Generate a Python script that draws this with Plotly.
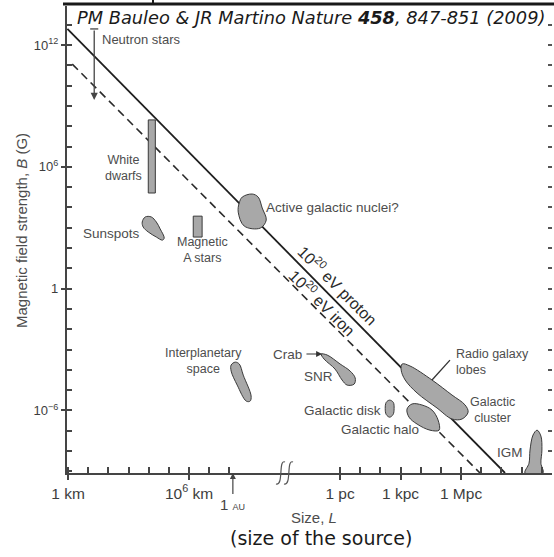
import plotly.graph_objects as go

# ---------------- data (log10 of size in km, log10 of field in gauss) ----------------
y_major = [12, 6, 0, -6]
y_major_text = ['10<sup>12</sup>', '10<sup>6</sup>', '1', '10<sup>−6</sup>']
y_minor = [-9, -8, -7, -6, -5, -4, -3, -2, -1, 0, 1, 2, 3, 4, 5, 6, 7, 8, 9, 10, 11, 12, 13]
y_right = [-8, -7, -6, -5, -4, -3, -2, -1, 0, 1, 2, 3, 4, 5, 6, 7, 8, 9, 10, 11, 12, 13]

x_major = [0, 6, 13.49, 16.49, 19.49]
x_major_text = ['1 km', '10<sup>6</sup> km', '1 pc', '1 kpc', '1 Mpc']
x_minor = [0, 1, 2, 3, 4, 5, 6, 7, 8,
           13.49, 14.49, 15.49, 16.49, 17.49, 18.49, 19.49, 20.49, 21.49, 22.49, 23.49]
AU_logkm = 8.175

proton_L = [-0.03, 21.67]
proton_B = [12.79, -9.08]
iron_L = [0.21, 20.43]
iron_B = [11.06, -9.08]

neutron_L = 1.30
neutron_B = [12.79, 9.29]

white_dwarf_L = [3.98, 4.33, 4.33, 3.98]
white_dwarf_B = [8.31, 8.31, 4.71, 4.71]

sunspots_L = [3.68, 3.83, 4.13, 4.38, 4.57, 4.77, 4.68, 4.38, 3.98, 3.73]
sunspots_B = [3.28, 3.53, 3.53, 3.28, 2.94, 2.49, 2.39, 2.54, 2.79, 3.03]

astars_L = [6.21, 6.65, 6.65, 6.21]
astars_B = [3.57, 3.57, 2.54, 2.54]

agn_L = [8.44, 8.49, 8.64, 9.13, 9.43, 9.63, 9.83, 9.53, 8.74]
agn_B = [3.77, 4.22, 4.51, 4.66, 4.51, 3.97, 3.38, 2.98, 3.08]

interplan_L = [8.29, 8.49, 8.69, 9.08, 9.03, 8.84, 8.39, 8.09, 8.09]
interplan_B = [-3.62, -3.71, -4.26, -5.29, -5.54, -5.54, -4.75, -4.06, -3.76]

snr_L = [12.55, 12.85, 13.49, 13.99, 14.24, 14.19, 13.84, 13.59, 13.24, 12.70]
snr_B = [-3.22, -3.27, -3.71, -4.06, -4.40, -4.70, -4.75, -4.50, -3.96, -3.47]

gdisk_L = [15.95, 16.13, 16.17, 16.12, 15.95, 15.78, 15.73, 15.78]
gdisk_B = [-5.49, -5.60, -5.91, -6.20, -6.33, -6.20, -5.91, -5.60]

ghalo_L = [16.81, 17.06, 17.55, 18.05, 18.35, 18.40, 17.95, 17.31, 16.91]
ghalo_B = [-5.93, -5.68, -5.73, -5.98, -6.47, -6.97, -6.97, -6.67, -6.33]

lobes_L = [16.57, 16.96, 18.05, 19.04, 19.69, 19.84, 19.54, 19.04, 18.30, 17.31, 16.72, 16.52]
lobes_B = [-3.71, -3.81, -4.50, -5.24, -5.73, -6.08, -6.42, -6.42, -5.88, -5.14, -4.50, -4.01]

igm_L = [22.66, 22.86, 22.91, 23.06, 23.26, 23.45, 23.50, 23.45, 23.55]
igm_B = [-9.08, -8.60, -7.95, -7.21, -6.97, -7.26, -7.95, -8.60, -9.08]

lobes_leader_L = [18.05, 18.94]
lobes_leader_B = [-4.50, -3.52]

crab_arrow_L = [11.75, 12.60]
crab_arrow_B = -3.22

# ---------------- layout constants ----------------
W, H = 554, 557
ML, MR, MT, MB = 67, 2, 6, 84
PW, PH = W - ML - MR, H - MT - MB
x_range = [-0.05, 24.0]
y_range = [-9.08, 13.92]

FILL = '#a8a8a8'
EDGE = '#3a3a3a'
TXT = '#4d4d4d'
AX = '#454545'
SANS = 'Liberation Sans, Arial, sans-serif'


def paper_x(px):
    return (px - ML) / PW


def paper_y(py):
    return (H - MB - py) / PH


fig = go.Figure()


def blob(L, B, smooth=True):
    fig.add_trace(go.Scatter(
        x=L + [L[0]], y=B + [B[0]], mode='lines', fill='toself', fillcolor=FILL,
        line=dict(color=EDGE, width=1, shape='spline' if smooth else 'linear', smoothing=1),
        hoverinfo='skip', showlegend=False))


# limit lines
fig.add_trace(go.Scatter(x=proton_L, y=proton_B, mode='lines',
                         line=dict(color='#1e1e1e', width=1.8), showlegend=False, hoverinfo='skip'))
fig.add_trace(go.Scatter(x=iron_L, y=iron_B, mode='lines',
                         line=dict(color='#2a2a2a', width=1.6, dash='8px,5px'), showlegend=False, hoverinfo='skip'))

# sources
blob(white_dwarf_L, white_dwarf_B, smooth=False)
blob(sunspots_L, sunspots_B)
blob(astars_L, astars_B, smooth=False)
blob(agn_L, agn_B)
blob(interplan_L, interplan_B)
blob(snr_L, snr_B)
blob(gdisk_L, gdisk_B)
blob(ghalo_L, ghalo_B)
blob(lobes_L, lobes_B)
blob(igm_L, igm_B)

# neutron star bar cap, lobes leader line
fig.add_trace(go.Scatter(x=[neutron_L - 0.2, neutron_L + 0.2], y=[neutron_B[0], neutron_B[0]], mode='lines',
                         line=dict(color=AX, width=1.3), showlegend=False, hoverinfo='skip'))
fig.add_trace(go.Scatter(x=lobes_leader_L, y=lobes_leader_B, mode='lines',
                         line=dict(color='#333', width=1.3), showlegend=False, hoverinfo='skip'))

# invisible trace for right-hand tick axis
fig.add_trace(go.Scatter(x=[None], y=[None], yaxis='y2', showlegend=False, hoverinfo='skip'))

ann = []


def label(text, x, y, xanchor='center', size=13.5, color=TXT, angle=0, align='center'):
    ann.append(dict(text=text, x=x, y=y, xref='x', yref='y', xanchor=xanchor, yanchor='middle',
                    showarrow=False, textangle=angle, align=align,
                    font=dict(family=SANS, size=size, color=color)))


label('Neutron stars', 1.60, 12.25, xanchor='left', size=13)
label('White<br>dwarfs', 2.74, 5.92, size=12.5)
label('Sunspots', 2.15, 2.74)
label('Magnetic<br>A stars', 6.65, 1.90, size=12.5)
label('Active galactic nuclei?', 9.73, 4.02, xanchor='left')
label('10<sup>20</sup> eV proton', 13.39, 0.18, size=16, color='#2a2a2a', angle=45)
label('10<sup>20</sup> eV iron', 12.60, -0.66, size=16, color='#2a2a2a', angle=45)
label('Interplanetary<br>space', 6.70, -3.54, size=12.5)
label('Crab', 11.71, -3.22, xanchor='right')
label('SNR', 12.43, -4.35)
label('Galactic disk', 15.63, -5.98, xanchor='right')
label('Galactic halo', 15.45, -6.92)
label('Radio galaxy<br>lobes', 19.14, -3.59, xanchor='left', size=12.5, align='left')
label('Galactic<br>cluster', 21.05, -5.96, size=12.5)
label('IGM', 22.66, -8.05, xanchor='right')

# arrows
ann.append(dict(x=neutron_L, y=neutron_B[1], ax=neutron_L, ay=neutron_B[0], xref='x', yref='y',
                axref='x', ayref='y', text='', showarrow=True, arrowhead=2, arrowsize=1.1,
                arrowwidth=1.3, arrowcolor=AX))
ann.append(dict(x=crab_arrow_L[1], y=crab_arrow_B, ax=crab_arrow_L[0], ay=crab_arrow_B, xref='x', yref='y',
                axref='x', ayref='y', text='', showarrow=True, arrowhead=2, arrowsize=1,
                arrowwidth=1.2, arrowcolor='#333'))
ann.append(dict(x=AU_logkm, y=y_range[0], xref='x', yref='y', ax=0, ay=31,
                text="1 <span style='font-size:9px'>AU</span>", showarrow=True, arrowhead=2,
                arrowsize=1, arrowwidth=1.2, arrowcolor='#444',
                font=dict(family=SANS, size=15, color='#444')))


def paper_text(text, px, py, font, xanchor='center', angle=0):
    ann.append(dict(text=text, x=paper_x(px), y=paper_y(py), xref='paper', yref='paper',
                    xanchor=xanchor, yanchor='middle', textangle=angle, showarrow=False, font=font))


# titles
paper_text('<i>PM Bauleo &amp; JR Martino Nature <b>458</b>, 847-851 (2009)</i>', 75, 18,
           dict(family='DejaVu Sans, sans-serif', size=17.8, color='#1a1a1a'), xanchor='left')
paper_text('Magnetic field strength, <i>B</i> (G)', 21, 231, dict(family=SANS, size=15, color=TXT), angle=-90)
paper_text('Size, <i>L</i>', 314, 517, dict(family=SANS, size=15, color=TXT))
paper_text('(size of the source)', 321, 538, dict(family='DejaVu Sans, sans-serif', size=19, color='#1a1a1a'))

# decorations: top frame line and axis break marks
shapes = [
    dict(type='line', xref='paper', yref='paper', x0=paper_x(63), x1=paper_x(554), y0=paper_y(4), y1=paper_y(4),
         line=dict(color='#1a1a1a', width=3)),
    dict(type='line', xref='paper', yref='paper', x0=paper_x(153), x1=paper_x(153), y0=paper_y(4), y1=paper_y(0),
         line=dict(color='#1a1a1a', width=2)),
]
for off in (0, 8):
    p = ('M {:.4f},{:.4f} C {:.4f},{:.4f} {:.4f},{:.4f} {:.4f},{:.4f}'.format(
        paper_x(285 + off), paper_y(462), paper_x(278 + off), paper_y(459),
        paper_x(284 + off), paper_y(486), paper_x(276 + off), paper_y(484)))
    shapes.append(dict(type='path', xref='paper', yref='paper', path=p, line=dict(color='#555', width=1.2)))

fig.update_layout(
    width=W, height=H, margin=dict(l=ML, r=MR, t=MT, b=MB),
    paper_bgcolor='white', plot_bgcolor='white', showlegend=False,
    annotations=ann, shapes=shapes,
    xaxis=dict(range=x_range, showgrid=False, zeroline=False, showline=True, linecolor=AX, linewidth=2.2,
               tickmode='array', tickvals=x_major, ticktext=x_major_text, ticks='outside', ticklen=5,
               tickwidth=1.5, tickcolor=AX,
               tickfont=dict(family=SANS, size=15.5, color='#3d3d3d'),
               minor=dict(tickmode='array', tickvals=x_minor, ticks='inside', ticklen=6, tickwidth=1.5,
                          tickcolor=AX)),
    yaxis=dict(range=y_range, showgrid=False, zeroline=False, showline=True, linecolor=AX, linewidth=2.2,
               tickmode='array', tickvals=y_major, ticktext=y_major_text, ticks='outside', ticklen=4,
               tickwidth=1.5, tickcolor=AX,
               tickfont=dict(family=SANS, size=13, color='#3d3d3d'),
               minor=dict(tickmode='array', tickvals=y_minor, ticks='inside', ticklen=5, tickwidth=1.5,
                          tickcolor=AX)),
    yaxis2=dict(overlaying='y', matches='y', side='right', showgrid=False, zeroline=False, showline=False,
                tickmode='array', tickvals=y_right, ticks='inside', ticklen=4, tickwidth=1.5,
                tickcolor='#555', showticklabels=False),
)

fig.write_html('out.html', config={'displayModeBar': False},
               post_script="document.body.style.margin='0';")
